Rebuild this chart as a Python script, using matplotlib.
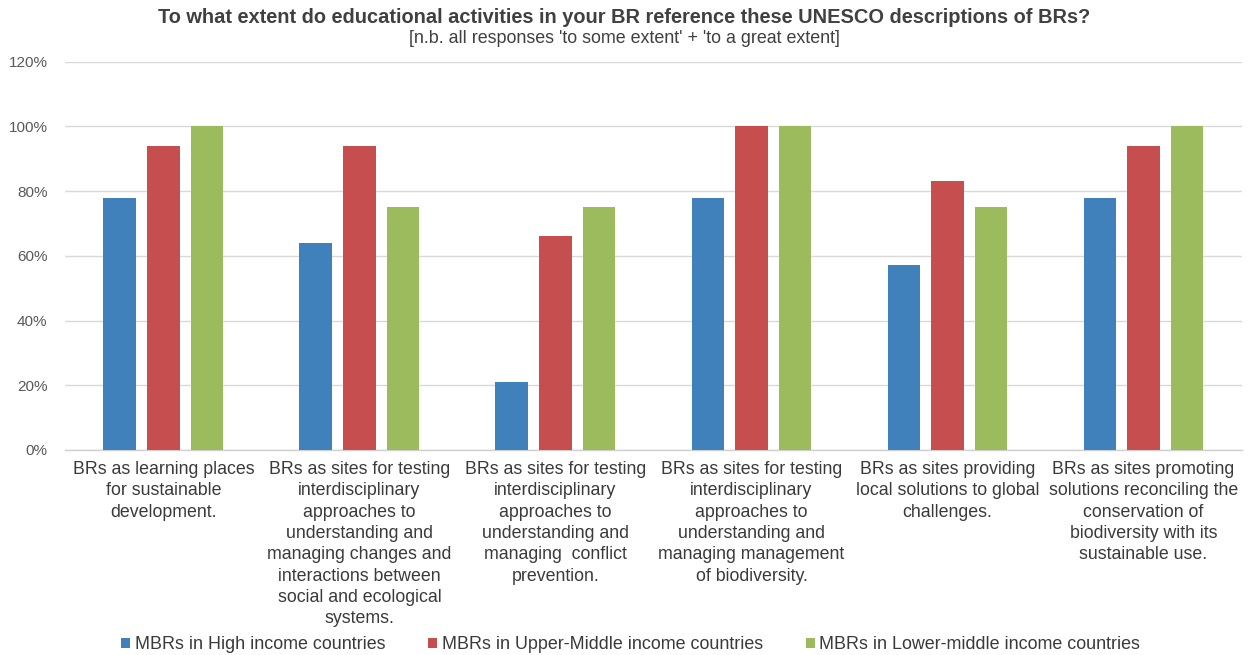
import matplotlib
matplotlib.use("Agg")
import matplotlib.pyplot as plt
import numpy as np

plt.rcParams['font.family'] = ['Liberation Sans', 'DejaVu Sans']

categories = [
    "BRs as learning places\nfor sustainable\ndevelopment.",
    "BRs as sites for testing\ninterdisciplinary\napproaches to\nunderstanding and\nmanaging changes and\ninteractions between\nsocial and ecological\nsystems.",
    "BRs as sites for testing\ninterdisciplinary\napproaches to\nunderstanding and\nmanaging  conflict\nprevention.",
    "BRs as sites for testing\ninterdisciplinary\napproaches to\nunderstanding and\nmanaging management\nof biodiversity.",
    "BRs as sites providing\nlocal solutions to global\nchallenges.",
    "BRs as sites promoting\nsolutions reconciling the\nconservation of\nbiodiversity with its\nsustainable use.",
]
series_names = [
    "MBRs in High income countries",
    "MBRs in Upper-Middle income countries",
    "MBRs in Lower-middle income countries",
]
high = [0.78, 0.64, 0.21, 0.78, 0.57, 0.78]
upper_middle = [0.94, 0.94, 0.66, 1.00, 0.83, 0.94]
lower_middle = [1.00, 0.75, 0.75, 1.00, 0.75, 1.00]
y_ticks = [0, 0.2, 0.4, 0.6, 0.8, 1.0, 1.2]
y_labels = ["0%", "20%", "40%", "60%", "80%", "100%", "120%"]

colors = ["#4081BC", "#C64E4E", "#9CBB5D"]
text_gray = "#595959"
label_gray = "#3A3A3A"

fig = plt.figure(figsize=(12.49, 6.55), dpi=100)
ax = fig.add_axes([0.0524, 0.313, 0.9416, 0.593])

x = np.arange(len(categories))
w = 0.168
pitch = 0.222
for i, (vals, name, c) in enumerate(zip([high, upper_middle, lower_middle], series_names, colors)):
    ax.bar(x + (i - 1) * pitch, vals, width=w, color=c, label=name, zorder=3)

ax.set_xlim(-0.5, len(categories) - 0.5)
ax.set_ylim(0, 1.2)
ax.set_yticks(y_ticks)
ax.set_yticklabels(y_labels, fontsize=11, color=text_gray)
ax.yaxis.grid(True, color="#D9D9D9", linewidth=1.0, zorder=0)
ax.set_xticks(x)
ax.set_xticklabels(categories, fontsize=12.8, color=label_gray, linespacing=1.33, va="top")
ax.tick_params(axis="both", length=0)
ax.tick_params(axis="x", pad=8)
ax.tick_params(axis="y", pad=13)
for s in ["top", "right", "left"]:
    ax.spines[s].set_visible(False)
ax.spines["bottom"].set_color("#D0D0D0")
ax.spines["bottom"].set_linewidth(1.0)

fig.text(0.5, 0.974, "To what extent do educational activities in your BR reference these UNESCO descriptions of BRs?",
         ha="center", va="center", fontsize=14.4, fontweight="bold", color="#404040")
fig.text(0.5, 0.941, "[n.b. all responses 'to some extent' + 'to a great extent]",
         ha="center", va="center", fontsize=12.9, color="#404040")

leg = fig.legend(loc="center", bbox_to_anchor=(0.505, 0.016), ncol=3, frameon=False,
                 fontsize=12.9, handlelength=0.5, handleheight=0.5, handletextpad=0.25,
                 columnspacing=2.4, labelcolor=label_gray)

fig.savefig("out.png", dpi=100)
